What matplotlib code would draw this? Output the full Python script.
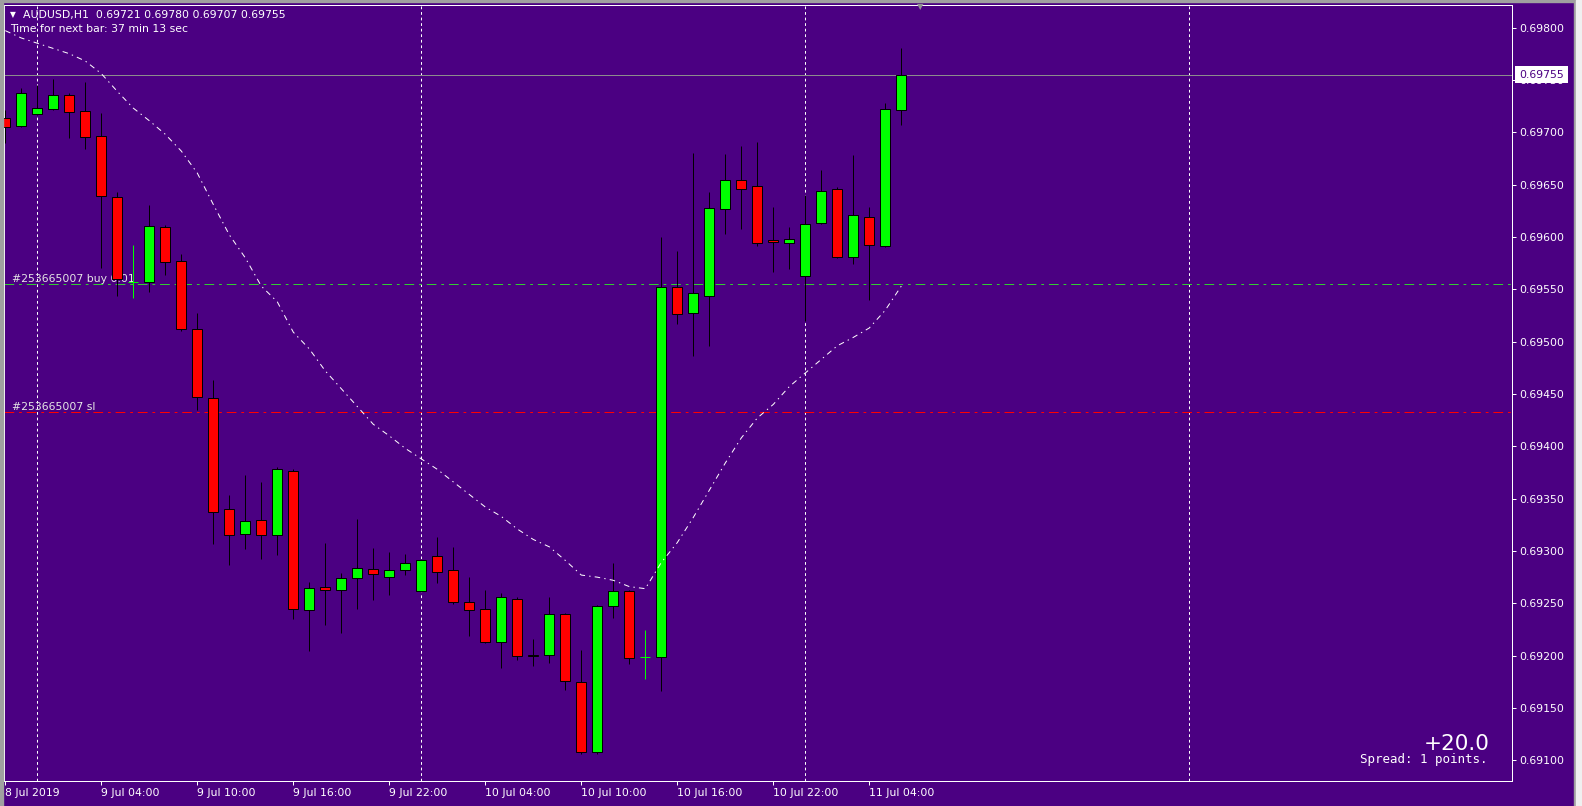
"""MT4 style candlestick chart of AUDUSD H1"""

import matplotlib
matplotlib.use('Agg')
import matplotlib.pyplot as plt
import matplotlib.transforms as mtransforms
from matplotlib.patches import Rectangle
import numpy as np

plt.rcParams['lines.scale_dashes'] = False

# hourly bars, the first visible one is 8 Jul 22:00
opens = [0.69714, 0.69706, 0.69717, 0.69722, 0.69736, 0.69720, 0.69696, 0.69638, 0.69557, 0.69557,
         0.69609, 0.69577, 0.69512, 0.69446, 0.69340, 0.69316, 0.69330, 0.69315, 0.69376, 0.69244,
         0.69266, 0.69263, 0.69274, 0.69283, 0.69275, 0.69282, 0.69262, 0.69295, 0.69282, 0.69251,
         0.69245, 0.69213, 0.69254, 0.69201, 0.69201, 0.69240, 0.69175, 0.69108, 0.69247, 0.69262,
         0.69199, 0.69199, 0.69552, 0.69527, 0.69544, 0.69627, 0.69654, 0.69649, 0.69597, 0.69594,
         0.69563, 0.69613, 0.69646, 0.69581, 0.69619, 0.69591, 0.69721]
highs = [0.69721, 0.69742, 0.69745, 0.69751, 0.69737, 0.69748, 0.69718, 0.69643, 0.69592, 0.69630,
         0.69611, 0.69584, 0.69527, 0.69463, 0.69353, 0.69373, 0.69366, 0.69380, 0.69378, 0.69270,
         0.69308, 0.69279, 0.69331, 0.69303, 0.69299, 0.69297, 0.69292, 0.69313, 0.69304, 0.69275,
         0.69263, 0.69260, 0.69256, 0.69216, 0.69256, 0.69241, 0.69205, 0.69248, 0.69289, 0.69263,
         0.69225, 0.69600, 0.69587, 0.69680, 0.69643, 0.69679, 0.69687, 0.69691, 0.69629, 0.69609,
         0.69640, 0.69664, 0.69648, 0.69678, 0.69629, 0.69728, 0.69780]
lows = [0.69690, 0.69705, 0.69716, 0.69721, 0.69694, 0.69684, 0.69570, 0.69544, 0.69542, 0.69547,
        0.69564, 0.69510, 0.69435, 0.69307, 0.69287, 0.69302, 0.69292, 0.69296, 0.69235, 0.69204,
        0.69229, 0.69222, 0.69245, 0.69253, 0.69258, 0.69277, 0.69261, 0.69269, 0.69249, 0.69219,
        0.69212, 0.69188, 0.69196, 0.69190, 0.69193, 0.69167, 0.69106, 0.69106, 0.69236, 0.69192,
        0.69178, 0.69166, 0.69517, 0.69486, 0.69496, 0.69603, 0.69608, 0.69591, 0.69566, 0.69569,
        0.69520, 0.69612, 0.69580, 0.69574, 0.69540, 0.69590, 0.69707]
closes = [0.69705, 0.69737, 0.69723, 0.69736, 0.69719, 0.69695, 0.69639, 0.69560, 0.69557, 0.69610,
          0.69576, 0.69512, 0.69447, 0.69337, 0.69315, 0.69329, 0.69315, 0.69378, 0.69245, 0.69265,
          0.69263, 0.69274, 0.69284, 0.69278, 0.69282, 0.69289, 0.69291, 0.69280, 0.69251, 0.69244,
          0.69213, 0.69256, 0.69200, 0.69200, 0.69240, 0.69176, 0.69108, 0.69247, 0.69262, 0.69198,
          0.69199, 0.69552, 0.69526, 0.69546, 0.69628, 0.69654, 0.69646, 0.69594, 0.69595, 0.69598,
          0.69612, 0.69644, 0.69581, 0.69621, 0.69592, 0.69722, 0.69755]
# moving average drawn over the candles
ma = [0.69797, 0.69790, 0.69785, 0.69780, 0.69775, 0.69768, 0.69756, 0.69739, 0.69723, 0.69711,
      0.69698, 0.69682, 0.69661, 0.69631, 0.69602, 0.69580, 0.69553, 0.69538, 0.69509, 0.69493,
      0.69472, 0.69455, 0.69438, 0.69421, 0.69410, 0.69398, 0.69388, 0.69378, 0.69366, 0.69354,
      0.69342, 0.69333, 0.69321, 0.69311, 0.69304, 0.69291, 0.69277, 0.69275, 0.69272, 0.69266,
      0.69264, 0.69289, 0.69308, 0.69332, 0.69358, 0.69384, 0.69408, 0.69427, 0.69440, 0.69457,
      0.69470, 0.69483, 0.69496, 0.69504, 0.69513, 0.69530, 0.69553]

tick_bars = [0, 6, 12, 18, 24, 30, 36, 42, 48, 54]
tick_labels = ["8 Jul 2019", "9 Jul 04:00", "9 Jul 10:00", "9 Jul 16:00", "9 Jul 22:00",
               "10 Jul 04:00", "10 Jul 10:00", "10 Jul 16:00", "10 Jul 22:00", "11 Jul 04:00"]
day_bars = [2, 26, 50, 74]
price_ticks = [0.69100, 0.69150, 0.69200, 0.69250, 0.69300, 0.69350, 0.69400, 0.69450,
               0.69500, 0.69550, 0.69600, 0.69650, 0.69700, 0.69750, 0.69800]

order_id = "#253665007"
buy_price = 0.69555
sl_price = 0.69433
bid = closes[-1]

BG = '#4B0082'
W, H = 1582, 806
LW = 0.72  # one pixel

fig = plt.figure(figsize=(W / 100, H / 100), dpi=100, facecolor=BG)
ax = fig.add_axes([4 / W, 25 / H, 1508 / W, 776 / H], facecolor=BG)

x = np.arange(len(opens))
o = np.array(opens)
h = np.array(highs)
l = np.array(lows)
c = np.array(closes)
up = c > o
down = c < o
flat = c == o

# wicks, bodies and doji crosses
ax.vlines(x[~flat], l[~flat], h[~flat], color='black', lw=LW, zorder=3)
ax.bar(x[up], (c - o)[up], bottom=o[up], width=0.62, color='#00FF00',
       edgecolor='black', linewidth=LW, zorder=4)
ax.bar(x[down], (c - o)[down], bottom=o[down], width=0.62, color='#FF0000',
       edgecolor='black', linewidth=LW, zorder=4)
ax.vlines(x[flat], l[flat], h[flat], color='#00FF00', lw=LW, zorder=4)
ax.hlines(o[flat], x[flat] - 0.31, x[flat] + 0.31, color='#00FF00', lw=LW, zorder=4)

ax.plot(x, ma, color='white', lw=LW, linestyle=(0, (4, 3, 1, 3)), zorder=5)

# day separators, bid line, order lines
for b in day_bars:
    ax.axvline(b, color='white', lw=LW, linestyle=(0, (2, 2)), zorder=1)
ax.axhline(bid, color='#8C8C8C', lw=LW, zorder=1)
ax.axhline(buy_price, color='#33CC33', lw=LW, linestyle=(0, (7, 3.5, 2, 3.5)), zorder=1)
ax.axhline(sl_price, color='#FF0000', lw=LW, linestyle=(0, (7, 3.5, 2, 3.5)), zorder=1)
ax.text(0.0, buy_price, " " * 2 + order_id + " buy 0.01", color='#E6E6E6', fontsize=7.8,
        va='bottom', ha='left', zorder=2)
ax.text(0.0, sl_price, " " * 2 + order_id + " sl", color='#E6E6E6', fontsize=7.8,
        va='bottom', ha='left', zorder=2)

ax.set_xlim(-0.081, 94.17)
ax.set_ylim(0.690803, 0.698215)
ax.yaxis.tick_right()
ax.set_yticks(price_ticks)
ax.set_yticklabels(["%.5f" % p for p in price_ticks])
ax.set_xticks(tick_bars)
ax.set_xticklabels(tick_labels, ha='left')
ax.tick_params(colors='white', labelsize=7.8, length=3, width=LW, direction='out', pad=2)
for s in ax.spines.values():
    s.set_color('white')
    s.set_linewidth(LW)

# current price box on the scale
trans = mtransforms.blended_transform_factory(ax.transAxes, ax.transData)
ax.text(1.0 + 7 / 1508, bid, "%.5f" % bid, transform=trans, ha='left', va='center',
        fontsize=7.8, color=BG, zorder=10, clip_on=False,
        bbox=dict(boxstyle='square,pad=0.35', fc='white', ec='none'))

# header and info texts
fig.text(13 / W, 1 - 15 / H, "\u25bc", color='white', fontsize=5.5, ha='center', va='center')
fig.text(23 / W, 1 - 15 / H, "AUDUSD,H1  %.5f %.5f %.5f %.5f" % (opens[-1], highs[-1], lows[-1], closes[-1]),
         color='white', fontsize=7.8, va='center')
fig.text(10 / W, 1 - 29 / H, "Time for next bar: 37 min 13 sec", color='white', fontsize=7.8, va='center')
fig.text(920 / W, 1 - 7 / H, "\u25bc", color='#909090', fontsize=6, ha='center', va='center')
fig.text(1490 / W, 1 - 750 / H, "+20.0", color='white', fontsize=15.5, ha='right', va='baseline')
fig.text(1488 / W, 1 - 763 / H, "Spread: 1 points.", color='white', fontsize=9,
         family='DejaVu Sans Mono', ha='right', va='baseline')

# window borders
fig.patches.append(Rectangle((0, 0), 3 / W, 1, transform=fig.transFigure, color='#A0A0A0'))
fig.patches.append(Rectangle((0, 1 - 2 / H), 1, 2 / H, transform=fig.transFigure, color='#A0A0A0'))
fig.patches.append(Rectangle((1574 / W, 0), 2 / W, 1, transform=fig.transFigure, color='#A0A0A0'))
fig.patches.append(Rectangle((1576 / W, 0), 6 / W, 1, transform=fig.transFigure, color='#F0F0F0'))

fig.savefig('out.png', dpi=100, facecolor=fig.get_facecolor())
